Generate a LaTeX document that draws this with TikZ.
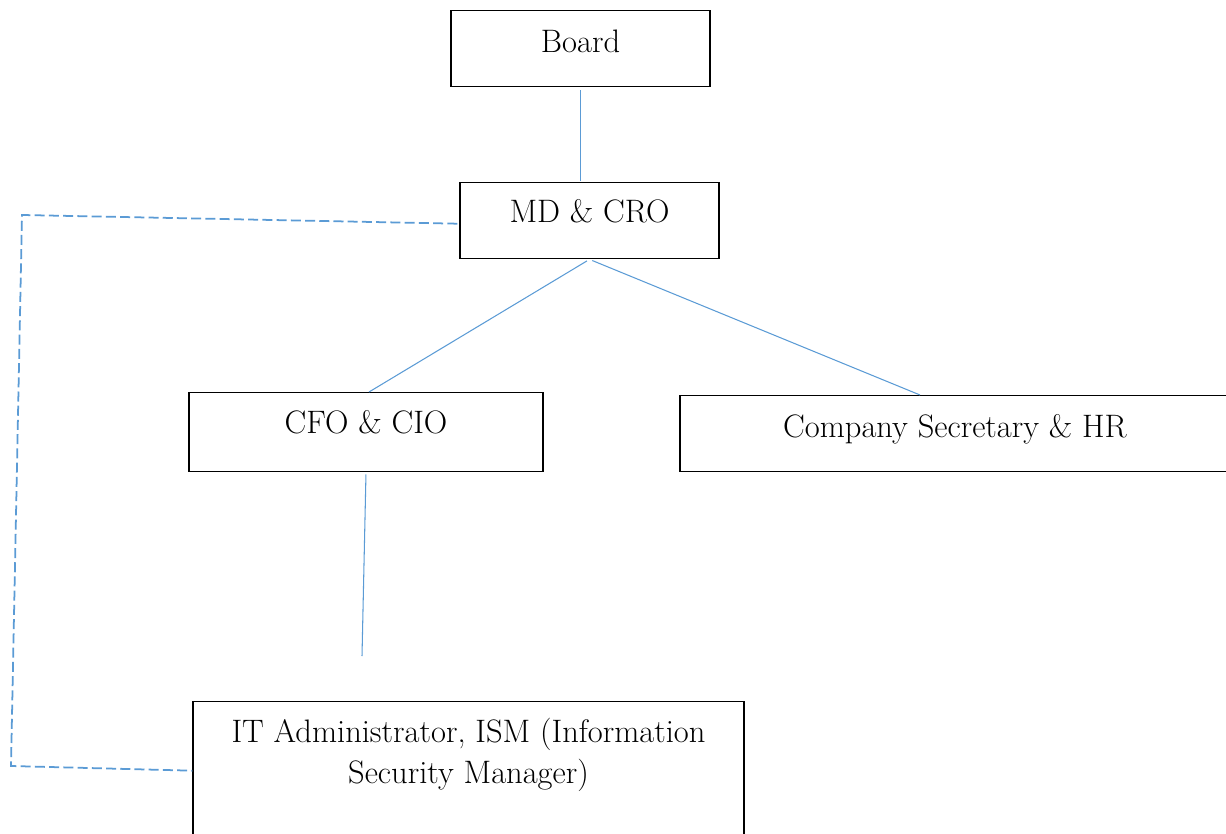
\documentclass[tikz,border=0pt]{standalone}
\definecolor{linkblue}{RGB}{91,155,213}
\tikzset{
  orgbox/.style={draw,line width=0.8pt,inner sep=0pt,anchor=north,align=center,
    font=\fontsize{18.5}{23.2}\selectfont},
  orgline/.style={draw=linkblue,line width=0.6pt},
  advisory/.style={draw=linkblue,line width=1pt,dash pattern=on 5.7pt off 2.4pt}
}
\begin{document}
\begin{tikzpicture}[x=0.02cm,y=-0.02cm]
\useasboundingbox (0,0) rectangle (1226,834);
\clip (0,0) rectangle (1226,834);
\path (580.5,10) node[orgbox,minimum width=5.18cm,text height=0.84cm,text depth=0.68cm](board){Board}
      (589.5,182) node[orgbox,minimum width=5.18cm,text height=0.8cm,text depth=0.72cm](md){MD \& CRO}
      (366,392) node[orgbox,minimum width=7.08cm,text height=0.82cm,text depth=0.76cm](cfo){CFO \& CIO}
      (955,395) node[orgbox,minimum width=11cm,text height=0.84cm,text depth=0.68cm](sec){Company Secretary \& HR}
      (468.5,701) node[orgbox,minimum width=11.02cm,text height=1.64cm,text depth=1.12cm](it){IT Administrator, ISM (Information\\Security Manager)};
\coordinate (itstub) at (362,656);
\coordinate (dl1) at (22,215);
\coordinate (dl2) at (11,766);
\draw[orgline,shorten <=0.06cm,shorten >=0.02cm] (board.south) -- (board.south |- md.north);
\draw[orgline,shorten <=0.06cm] (md.south) -- ([xshift=0.06cm]cfo.north);
\draw[orgline,shorten <=0.06cm] (md.south) -- ([xshift=-0.7cm]sec.north);
\draw[orgline,shorten <=0.04cm] (cfo.south) -- (itstub);
% dashed reporting line, ISM straight to the MD
\draw[advisory] ([xshift=-0.04cm,yshift=-0.06cm]md.west) -- (dl1) -- (dl2) -- (it.west);
\end{tikzpicture}
\end{document}
